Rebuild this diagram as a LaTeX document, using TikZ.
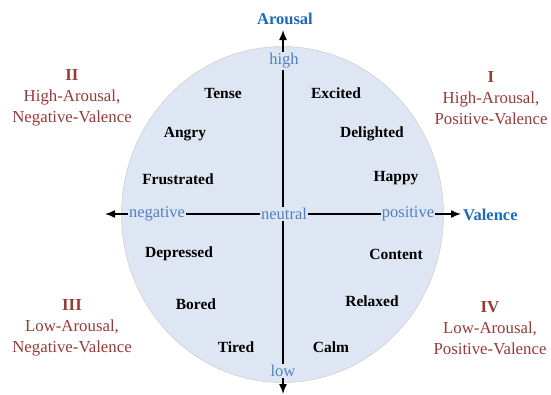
\documentclass[tikz,border=0pt]{standalone}
\usepackage{fontspec}
\setmainfont{Liberation Serif}
\usetikzlibrary{positioning,arrows,arrows.meta}

\definecolor{circfill}{RGB}{222,230,243}
\definecolor{axisblue}{RGB}{30,105,185}
\definecolor{scaleblue}{RGB}{80,130,190}
\definecolor{quadred}{RGB}{150,60,55}

\begin{document}
\begin{tikzpicture}[x=1pt,y=-1pt,
	emo/.style={font=\fontsize{15.5}{18}\selectfont\bfseries,inner sep=1pt},
	quad/.style={font=\fontsize{16.8}{21}\selectfont,text=quadred,align=center},
	scale label/.style={font=\fontsize{16.5}{18}\selectfont,text=scaleblue,fill=circfill,inner sep=1pt},
	axis name/.style={font=\fontsize{16.5}{18}\selectfont\bfseries,text=axisblue,inner sep=1pt}]

\useasboundingbox (0,0) rectangle (551,394);

\draw[fill=circfill,draw=gray!45] (282.5,214.5) ellipse [x radius=161pt, y radius=168pt];

\coordinate(top) at (283,30);
\coordinate(bottom) at (283,394);
\coordinate(left) at (105,214);
\coordinate(right) at (461,214);

\draw[<->,>={Latex[length=10pt,width=8pt]},line width=1.5pt](bottom)to(top);
\draw[<->,>={Latex[length=10pt,width=8pt]},line width=1.5pt](left)to(right);

\node[scale label](high) at (284,61) {high};
\node[scale label](low) at (283,371) {low};
\node[scale label](neutral) at (284,214) {neutral};
\node[scale label](negative) at (157,214) {negative};
\node[scale label](positive) at (408,214) {positive};
\node[axis name](arousal) at (285,19) {Arousal};
\node[axis name,anchor=west](valence) at (462,214.5) {Valence};

\node[emo](tense) at (223,93) {Tense};
\node[emo](excited) at (336,93) {Excited};
\node[emo](angry) at (185,134) {Angry};
\node[emo](delighted) at (372,134) {Delighted};
\node[emo](frustrated) at (178,179) {Frustrated};
\node[emo](happy) at (396,178) {Happy};
\node[emo](depressed) at (179,254) {Depressed};
\node[emo](content) at (396,254) {Content};
\node[emo](bored) at (196,304) {Bored};
\node[emo](relaxed) at (372,301) {Relaxed};
\node[emo](tired) at (236,347) {Tired};
\node[emo](calm) at (331,347) {Calm};

\node[quad](q1) at (491,98) {\textbf{I}\\High-Arousal,\\Positive-Valence};
\node[quad](q2) at (72,98) {\textbf{II}\\High-Arousal,\\Negative-Valence};
\node[quad](q3) at (72,328) {\textbf{III}\\Low-Arousal,\\Negative-Valence};
\node[quad](q4) at (490,328) {\textbf{IV}\\Low-Arousal,\\Positive-Valence};
\end{tikzpicture}
\end{document}
